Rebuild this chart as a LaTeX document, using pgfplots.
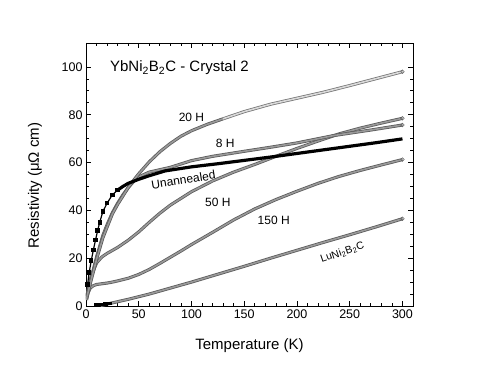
\documentclass[border=0pt]{standalone}
\usepackage{fontspec}
\setmainfont{Liberation Sans}
\usepackage{pgfplots}
\pgfplotsset{compat=1.18}

\pgfplotsset{
  band/.style={draw=black!65, double=black!40, double distance=1.6pt, line width=0.75pt},
  bandlight/.style={draw=black!55, double=black!15, double distance=1.6pt, line width=0.75pt},
}

\begin{document}
\begin{tikzpicture}
\begin{axis}[
  scale only axis,
  width=327pt, height=263pt,
  xmin=0, xmax=310, ymin=0, ymax=110,
  xtick={0,50,...,300}, ytick={0,20,...,100},
  minor x tick num=4, minor y tick num=3,
  tick align=inside,
  major tick length=5pt, minor tick length=3pt,
  axis line style={line width=0.8pt},
  tick style={line width=0.7pt, black},
  /pgf/number format/assume math mode=true,
  tick label style={font=\fontsize{12.5}{14}\selectfont},
  xlabel={Temperature (K)},
  ylabel={Resistivity (μΩ cm)},
  every axis x label/.style={at={(rel axis cs:0.5,0)}, anchor=center, yshift=-40pt, font=\fontsize{15}{18}\selectfont},
  every axis y label/.style={at={(rel axis cs:0,0.458)}, anchor=center, rotate=90, yshift=51pt, font=\fontsize{15}{18}\selectfont},
  clip=true,
]

% LuNi2B2C
\addplot[band] coordinates {
(14,0.1) (20,0.8) (30,1.8) (40,2.8) (50,3.9) (60,5) (80,7.5) (100,10)
(125,13.3) (150,16.6) (175,20) (200,23.3) (225,26.6) (250,29.8) (275,33.1) (300,36.5)
};

% 150 H
\addplot[band] coordinates {
(0.5,2.5) (2,5.5) (4,7.5) (7,8.5) (10,9) (15,9.3) (20,9.6) (25,10) (30,10.5)
(40,11.6) (50,13.2) (60,15.3) (70,17.8) (80,20.4) (90,23) (100,25.7)
(120,30.8) (140,36) (160,40.6) (180,44.5) (200,48) (220,51.3) (240,54.2)
(260,56.7) (280,59) (300,61.25)
};

% 50 H
\addplot[band] coordinates {
(0.5,3) (2,7) (5,12.5) (10,18) (15,20.5) (20,22) (30,24.5) (40,27.5) (50,31)
(60,35) (70,38.8) (80,42.2) (90,45) (100,47.8) (120,52.3) (140,56) (160,59.2)
(180,62.6) (200,65.9) (220,69) (240,72) (260,74.4) (280,76.5) (300,78.5)
};

% 8 H
\addplot[band] coordinates {
(1,4.5) (3,8) (5,12) (8,17) (10,20.5) (13,25) (16,29.5) (20,34) (25,39)
(30,43) (35,46.5) (40,49.5) (45,52) (50,54) (60,56) (80,58) (100,60.8)
(120,62.6) (150,64.7) (175,66.4) (200,68.2) (235,71.3) (270,73.6) (300,75.7)
};

% 20 H
\addplot[band] coordinates {
(1,4) (3,7.5) (5,11) (8,16) (10,19.5) (13,24) (16,28.5) (20,33) (25,38.5)
(30,42.5) (35,46) (40,49.5) (45,52.5) (50,55.3) (60,60.3) (70,64.5) (80,68)
(90,71) (100,73.3) (115,76) (130,78.3)
};
\addplot[bandlight] coordinates {
(130,78.3) (150,81.3) (175,84.4) (200,86.9) (225,89.4) (250,92.2) (275,95.1) (300,98)
};

% curve ends
\addplot[only marks, mark=o, mark size=1.8pt, black!60, mark options={fill=white, line width=0.6pt}] coordinates {
(300,98) (300,78.5) (300,75.7) (300,61.25) (300,36.5)
};

% low-T black points near zero
\addplot[only marks, mark=square*, mark size=1.1pt, black] coordinates {
(9,0.8) (11,0.8) (13,0.8) (15,0.9) (17,1.0) (19,1.0) (21,1.1) (23,1.2)
};

% Unannealed
\addplot[black, line width=3.2pt] coordinates {
(30,48.5) (35,50) (40,51.3) (50,53) (60,54.5) (75,56.5) (100,58.2) (125,59.5)
(150,60.9) (175,62.3) (200,63.8) (225,65.3) (250,66.8) (275,68.3) (300,69.9)
};
\addplot[black, line width=1.2pt, mark=square*, mark size=1.6pt] coordinates {
(1.5,9) (3,14) (5,19) (7,23.5) (9,27.5) (11,31.5) (13,35) (16,39.5) (20,43)
(25,46.5) (30,48.5)
};

\node[anchor=base west, font=\fontsize{15}{18}\selectfont] at (axis cs:19.5,98) {YbNi\textsubscript{2}B\textsubscript{2}C - Crystal 2};
\node[font=\fontsize{12}{14}\selectfont] at (axis cs:100,79) {20 H};
\node[font=\fontsize{12}{14}\selectfont] at (axis cs:132,68) {8 H};
\node[font=\fontsize{12}{14}\selectfont, rotate=9] at (axis cs:92.4,52.8) {Unannealed};
\node[font=\fontsize{12}{14}\selectfont] at (axis cs:125,43.5) {50 H};
\node[font=\fontsize{12}{14}\selectfont] at (axis cs:178,35.8) {150 H};
\node[font=\fontsize{10.5}{12}\selectfont, rotate=19] at (axis cs:243,22.3) {LuNi\textsubscript{2}B\textsubscript{2}C};
\end{axis}
\path (current axis.south west) ++(-86pt,-61pt) rectangle ++(480pt,367pt);
\end{tikzpicture}
\end{document}
